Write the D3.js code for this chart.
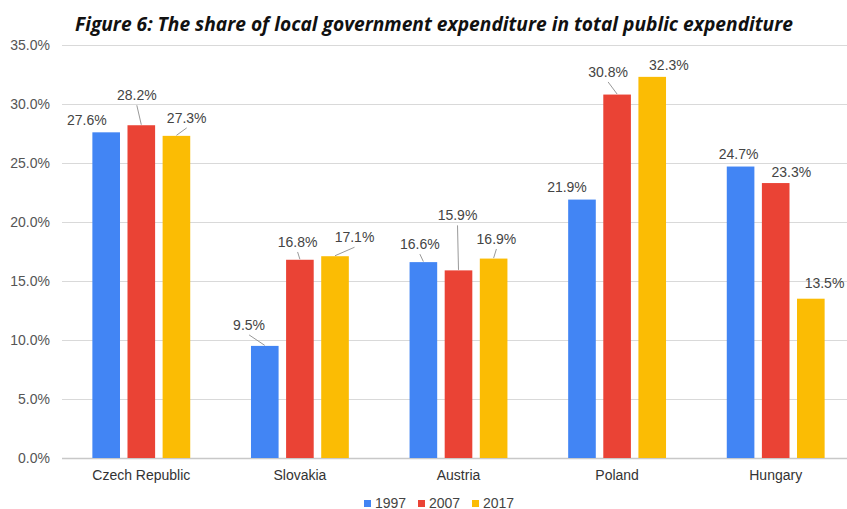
<!DOCTYPE html>
<html>
<head>
<meta charset="utf-8">
<script src="https://cdn.jsdelivr.net/npm/d3@7"></script>
<style>
  html, body { margin: 0; padding: 0; background: #fff; overflow: hidden; }
  svg { display: block; }
</style>
</head>
<body>
<svg id="chart" width="847" height="509"></svg>
<script>
// ---- data ----
const titleText = "Figure 6: The share of local government expenditure in total public expenditure";
const categories = ["Czech Republic", "Slovakia", "Austria", "Poland", "Hungary"];
const seriesNames = ["1997", "2007", "2017"];
const values1997 = [27.6, 9.5, 16.6, 21.9, 24.7];
const values2007 = [28.2, 16.8, 15.9, 30.8, 23.3];
const values2017 = [27.3, 17.1, 16.9, 32.3, 13.5];
const yTicks = [0, 5, 10, 15, 20, 25, 30, 35];

// ---- style / layout ----
const colors = ["#4285F4", "#EA4335", "#FBBC04"];
// label nudges [dx, dy, leader?] relative to bar top centre, per series per category
const nudges = [
  [[-19.4, -7.3, 0], [-15.7, -16, 1], [-3.5, -13, 1], [-15, -7.6, 0], [-2, -7.5, 0]],
  [[-4.5, -25, 1], [-2.3, -12.8, 1], [-1, -50, 1], [-9, -17.6, 1], [15.7, -6, 0]],
  [[10.3, -13, 1], [19.5, -14, 1], [2.8, -14.6, 1], [16.7, -7, 0], [13.7, -10.7, 0]]
];

const svg = d3.select("#chart");
const seriesValues = [values1997, values2007, values2017];

const x0 = d3.scaleBand().domain(categories).range([62, 855])
  .paddingInner(0.383).paddingOuter(0.1915);
const x1 = d3.scaleBand().domain(seriesNames).range([0, x0.bandwidth()])
  .paddingInner(0.2137).paddingOuter(0);
const y = d3.scaleLinear().domain([0, 35]).range([458, 45]);

// gridlines
svg.append("g").selectAll("line").data(yTicks).join("line")
  .attr("x1", 62).attr("x2", 847)
  .attr("y1", d => Math.round(y(d)) + 0.5).attr("y2", d => Math.round(y(d)) + 0.5)
  .attr("stroke", d => d === 0 ? "#c8c8c8" : "#d9d9d9")
  .attr("stroke-width", d => d === 0 ? 1.5 : 1);

// y tick labels
svg.append("g").selectAll("text").data(yTicks).join("text")
  .attr("x", 50).attr("y", d => y(d) + 5)
  .attr("text-anchor", "end")
  .attr("font-family", "Liberation Sans, Arial, sans-serif")
  .attr("font-size", 14).attr("fill", "#555")
  .text(d => d3.format(".1f")(d) + "%");

// bars
const groups = svg.append("g").selectAll("g").data(categories).join("g")
  .attr("transform", d => `translate(${x0(d)},0)`);

seriesNames.forEach((s, si) => {
  groups.append("rect")
    .attr("x", x1(s))
    .attr("width", x1.bandwidth())
    .attr("y", (d, ci) => y(seriesValues[si][ci]))
    .attr("height", (d, ci) => y(0) - y(seriesValues[si][ci]))
    .attr("fill", colors[si]);
});

// data labels + leaders
const labelG = svg.append("g");
seriesNames.forEach((s, si) => {
  categories.forEach((c, ci) => {
    const v = seriesValues[si][ci];
    const cx = x0(c) + x1(s) + x1.bandwidth() / 2;
    const top = y(v);
    const [dx, dy, lead] = nudges[si][ci];
    const lx = cx + dx, ly = top + dy;
    if (lead) {
      labelG.append("line")
        .attr("x1", lx).attr("y1", ly + 5)
        .attr("x2", cx).attr("y2", top - 0.5)
        .attr("stroke", "#999").attr("stroke-width", 1);
    }
    labelG.append("text")
      .attr("x", lx).attr("y", ly)
      .attr("text-anchor", "middle")
      .attr("font-family", "Liberation Sans, Arial, sans-serif")
      .attr("font-size", 14).attr("fill", "#444")
      .text(v.toFixed(1) + "%");
  });
});

// category labels
svg.append("g").selectAll("text").data(categories).join("text")
  .attr("x", d => x0(d) + x0.bandwidth() / 2)
  .attr("y", 480)
  .attr("text-anchor", "middle")
  .attr("font-family", "Liberation Sans, Arial, sans-serif")
  .attr("font-size", 14).attr("fill", "#333")
  .text(d => d);

// legend
const legendX = [364, 418, 472];
const leg = svg.append("g").selectAll("g").data(seriesNames).join("g")
  .attr("transform", (d, i) => `translate(${legendX[i]},0)`);
leg.append("rect").attr("x", 0).attr("y", 500).attr("width", 7).attr("height", 7)
  .attr("fill", (d, i) => colors[i]);
leg.append("text").attr("x", 11).attr("y", 507.5)
  .attr("font-family", "Liberation Sans, Arial, sans-serif")
  .attr("font-size", 14).attr("fill", "#444")
  .text(d => d);

// title (font size fitted to the reference width, no glyph stretching)
const title = svg.append("text")
  .attr("x", 75).attr("y", 31)
  .attr("font-family", "Liberation Sans Narrow, Open Sans, sans-serif")
  .attr("font-size", 21).attr("font-weight", "bold").attr("font-style", "italic")
  .attr("fill", "#111")
  .text(titleText);
const tw = title.node().getComputedTextLength();
if (tw > 0) {
  const fs = Math.min(24, 21 * 719 / tw);
  title.attr("font-size", fs.toFixed(2));
}
</script>
</body>
</html>
